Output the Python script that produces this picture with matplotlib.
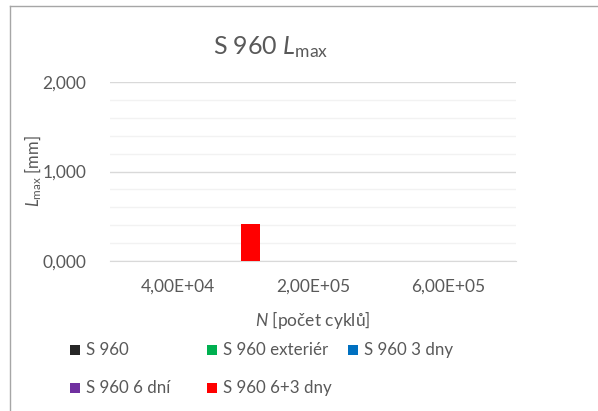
import matplotlib

matplotlib.use("Agg")
import matplotlib.pyplot as plt  # noqa: E402
import numpy as np  # noqa: E402
from matplotlib.lines import Line2D  # noqa: E402
from matplotlib.patches import Rectangle  # noqa: E402

plt.rcParams["font.family"] = ["Lato", "DejaVu Sans"]
plt.rcParams["mathtext.fontset"] = "custom"
plt.rcParams["mathtext.rm"] = "Lato"
plt.rcParams["mathtext.it"] = "Lato:italic"

categories = ["4,00E+04", "2,00E+05", "6,00E+05"]
series_names = ["S 960", "S 960 exteriér", "S 960 3 dny", "S 960 6 dní", "S 960 6+3 dny"]
series_colors = ["#262626", "#00b050", "#0070c0", "#7030a0", "#ff0000"]
values = [
    [0.0, 0.0, 0.0],
    [0.0, 0.0, 0.0],
    [0.0, 0.0, 0.0],
    [0.0, 0.0, 0.0],
    [0.413, 0.0, 0.0],
]
y_ticks = [0.0, 1.0, 2.0]

TXT = "#595959"
W, H = 598, 411

fig = plt.figure(figsize=(W / 100, H / 100), dpi=100)
ax = fig.add_axes([110 / W, 1 - 261 / H, 406 / W, 179 / H])

x = np.arange(len(categories))
width, step = 0.14, 0.27
for i, (name, col, vals) in enumerate(zip(series_names, series_colors, values)):
    ax.bar(x + (i - 2) * step, vals, width, color=col, label=name, zorder=3,
           linewidth=0)

ax.set_xlim(-0.5, len(categories) - 0.5)
ax.set_ylim(0, 2.0)
ax.set_yticks(y_ticks)
ax.set_yticklabels([f"{v:.3f}".replace(".", ",") for v in y_ticks])
ax.set_yticks(np.arange(0.2, 2.0, 0.2), minor=True)
ax.set_xticks(x)
ax.set_xticklabels(categories)
ax.tick_params(axis="both", length=0, labelsize=12.5, colors=TXT)
ax.tick_params(axis="y", which="minor", length=0)
ax.tick_params(axis="x", pad=13)
ax.tick_params(axis="y", pad=17)
ax.grid(axis="y", which="major", color="#d9d9d9", lw=1, zorder=1)
ax.grid(axis="y", which="minor", color="#f2f2f2", lw=1, zorder=1)
for s in ("top", "right", "left"):
    ax.spines[s].set_visible(False)
ax.spines["bottom"].set_color("#d9d9d9")
ax.set_xlabel("$N$ [počet cyklů]", fontsize=12.5, color=TXT, labelpad=10)

fig.text(271 / W, 1 - 47 / H, "S 960 $L_{\\mathrm{max}}$", fontsize=18,
         color=TXT, ha="center", va="center")
fig.text(33 / W, 1 - 171 / H, "$L_{\\mathrm{max}}$ [mm]", fontsize=12,
         color=TXT, ha="center", va="center", rotation=90)

# legend laid out like the Excel one: 3 columns, row-major
col_x = [70, 207, 348]
row_y = [350, 388]
for k, (name, col) in enumerate(zip(series_names, series_colors)):
    cx, cy = col_x[k % 3], row_y[k // 3]
    fig.add_artist(Rectangle((cx / W, 1 - (cy + 5) / H), 10 / W, 10 / H,
                             transform=fig.transFigure, facecolor=col,
                             edgecolor="none"))
    fig.text((cx + 16) / W, 1 - cy / H, name, fontsize=12.2, color=TXT,
             ha="left", va="center")

# chart border (partly cropped)
fig.add_artist(Line2D([10 / W, 10 / W], [0, 1 - 6 / H],
                      transform=fig.transFigure, color="#a6a6a6", lw=1))
fig.add_artist(Line2D([10 / W, 1], [1 - 6 / H, 1 - 6 / H],
                      transform=fig.transFigure, color="#a6a6a6", lw=1))

fig.savefig("out.png", dpi=100)
